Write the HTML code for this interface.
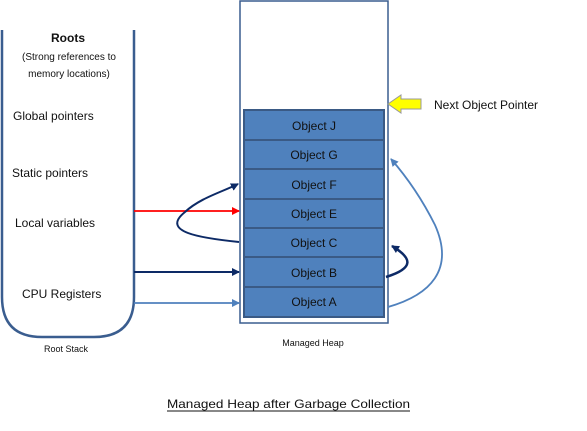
<!DOCTYPE html>
<html><head><style>body{margin:0;background:#fff}svg{display:block}text{font-family:"Liberation Sans",sans-serif;fill:#111}</style></head>
<body>
<svg width="587" height="431" viewBox="0 0 587 431">
<defs>
<marker id="ar" markerWidth="8" markerHeight="8" refX="7" refY="4" orient="auto" markerUnits="userSpaceOnUse"><path d="M0,0 L8,4 L0,8z" fill="red"/></marker>
<marker id="ad" markerWidth="8" markerHeight="8" refX="7" refY="4" orient="auto" markerUnits="userSpaceOnUse"><path d="M0,0 L8,4 L0,8z" fill="#0d2a66"/></marker>
<marker id="al" markerWidth="8" markerHeight="8" refX="7" refY="4" orient="auto" markerUnits="userSpaceOnUse"><path d="M0,0 L8,4 L0,8z" fill="#4f81bd"/></marker>
</defs>
<path d="M2,30 V297 Q2,337 42,337 H94 Q134,337 134,297 V30" fill="none" stroke="#3a5d8f" stroke-width="2.5"/>
<text x="68" y="42" font-size="12" font-weight="bold" text-anchor="middle">Roots</text>
<text x="69" y="60" font-size="10" text-anchor="middle" fill="#444">(Strong references to</text>
<text x="69" y="77" font-size="10" text-anchor="middle" fill="#444">memory locations)</text>
<text x="13" y="120" font-size="12">Global pointers</text>
<text x="12" y="177" font-size="12">Static pointers</text>
<text x="15" y="227" font-size="12">Local variables</text>
<text x="22" y="298" font-size="12">CPU Registers</text>
<text x="66" y="352" font-size="9" text-anchor="middle" fill="#444">Root Stack</text>
<rect x="240" y="1" width="148" height="322" fill="#fff" stroke="#3a5d8f" stroke-width="1.5"/>
<g stroke="#3a5a85" stroke-width="2" fill="#4f81bd">
<rect x="244" y="110" width="140" height="30"/><rect x="244" y="140" width="140" height="29"/>
<rect x="244" y="169" width="140" height="30"/><rect x="244" y="199" width="140" height="29"/>
<rect x="244" y="228" width="140" height="29"/><rect x="244" y="257" width="140" height="30"/>
<rect x="244" y="287" width="140" height="30"/></g>
<g font-size="12" text-anchor="middle">
<text x="314" y="130">Object J</text><text x="314" y="159">Object G</text>
<text x="314" y="189">Object F</text><text x="314" y="218">Object E</text>
<text x="314" y="247">Object C</text><text x="314" y="277">Object B</text>
<text x="314" y="306">Object A</text></g>
<text x="313" y="346" font-size="9" text-anchor="middle" fill="#444">Managed Heap</text>
<path d="M421,99 H401 V95 L388,104 L401,113 V109 H421z" fill="#ffff00" stroke="#999" stroke-width="1"/>
<text x="434" y="109" font-size="12">Next Object Pointer</text>
<line x1="134" y1="211" x2="239" y2="211" stroke="red" stroke-width="1.8" marker-end="url(#ar)"/>
<line x1="134" y1="272" x2="239" y2="272" stroke="#0d2a66" stroke-width="2" marker-end="url(#ad)"/>
<line x1="134" y1="303" x2="239" y2="303" stroke="#4f81bd" stroke-width="1.8" marker-end="url(#al)"/>
<path d="M239,242 C200,238 160,232 185,212 C200,198 222,192 238,184" fill="none" stroke="#0d2a66" stroke-width="2" marker-end="url(#ad)"/>
<path d="M386,277 C415,268 412,258 392,246" fill="none" stroke="#0d2a66" stroke-width="2.5" marker-end="url(#ad)"/>
<path d="M388,307 C430,295 455,270 435,225 C420,195 405,175 391,159" fill="none" stroke="#4f81bd" stroke-width="1.8" marker-end="url(#al)"/>
<text x="167" y="408" font-size="12" textLength="243" lengthAdjust="spacingAndGlyphs">Managed Heap after Garbage Collection</text>
<line x1="167" y1="411" x2="410" y2="411" stroke="#111" stroke-width="1"/>
</svg>
</body></html>
